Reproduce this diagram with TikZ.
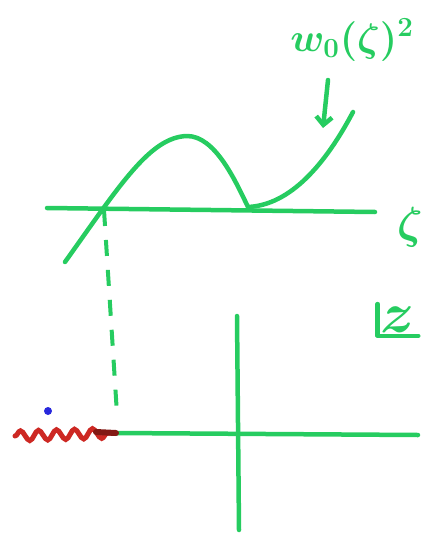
\documentclass[tikz,border=0pt]{standalone}
\usepackage{amsmath,bm,graphicx}
\usetikzlibrary{decorations.pathmorphing,arrows.meta}
\definecolor{pen}{RGB}{38,204,96}
\definecolor{redpen}{RGB}{205,40,35}
\definecolor{darkred}{RGB}{130,25,20}
\definecolor{bluepen}{RGB}{40,40,220}
\tikzset{
  stroke/.style={draw=pen,line width=4.5pt,line cap=round,line join=round},
  handtext/.style={text=pen,inner sep=1pt,font=\fontsize{26}{28}\selectfont\bfseries}
}
\begin{document}
\begin{tikzpicture}[x=1pt,y=-1pt]
\useasboundingbox (0,0) rectangle (426,538);
% upper graph
\coordinate (ax1l) at (47,208);
\coordinate (ax1r) at (375,212);
\draw[stroke] (ax1l) -- (ax1r);
\node[handtext] (zeta) at (410,227) {\scalebox{1.8}{$\bm{\zeta}$}};
\coordinate (cross) at (104,210);
\draw[stroke] (65,262) .. controls (120,185) and (150,137) .. (187,136)
  .. controls (215,136) and (235,180) .. (248,207)
  .. controls (290,205) and (325,165) .. (353,112);
% label and arrow
\node[handtext] (lab) at (352,40) {\scalebox{1.6}{$\bm{w_0(\zeta)^2}$}};
\coordinate (arrtip) at (323,128);
\draw[stroke,-{Straight Barb[length=8pt,width=16pt]}] (328,80) -- (arrtip);
% dashed projection
\coordinate (foot) at (117,414);
\draw[draw=pen,line width=4pt,dash pattern=on 16pt off 14pt] (cross) -- (foot);
% lower plane
\coordinate (ax2l) at (115,433);
\coordinate (ax2r) at (418,435);
\draw[stroke] (ax2l) -- (ax2r);
\coordinate (vt) at (237,316);
\coordinate (vb) at (239,530);
\draw[stroke] (vt) -- (vb);
% branch cut
\coordinate (cutl) at (15,436);
\draw[draw=redpen,line width=5pt,line cap=round,decorate,decoration={snake,segment length=18pt,amplitude=5pt}] (cutl) -- (ax2l);
\draw[draw=darkred,line width=6pt,line cap=round] (96,432) -- (116,433);
\fill[bluepen] (48,411) circle (4);
% z plane marker
\node[handtext,inner sep=3pt] (zm) at (398,320) {\scalebox{2.3}{$\bm{z}$}};
\draw[stroke] (zm.north west) -- (zm.south west) -- (zm.south east);
\end{tikzpicture}
\end{document}
